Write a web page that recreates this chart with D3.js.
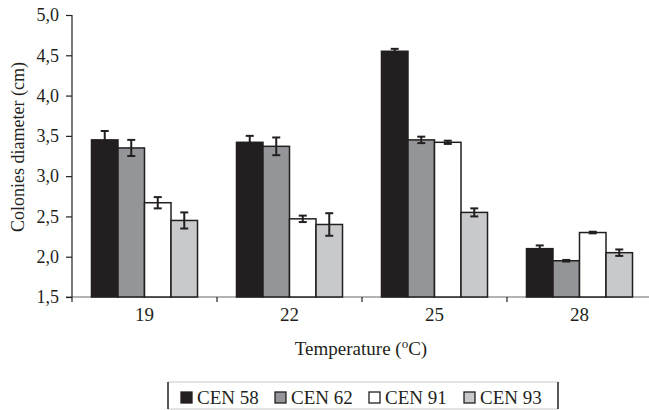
<!DOCTYPE html>
<html>
<head>
<meta charset="utf-8">
<script src="https://cdn.jsdelivr.net/npm/d3@7"></script>
<style>
  html, body { margin: 0; padding: 0; background: #fff; }
  svg text { font-family: "Liberation Serif", "DejaVu Serif", "Times New Roman", serif !important; fill: #231f20; }
</style>
</head>
<body>
<svg id="chart" width="649" height="410"></svg>
<script>
// ---- data ----
const categories = ["19", "22", "25", "28"];
const seriesNames = ["CEN 58", "CEN 62", "CEN 91", "CEN 93"];
const cen58 = [3.45, 3.42, 4.55, 2.10];
const cen62 = [3.35, 3.37, 3.45, 1.95];
const cen91 = [2.67, 2.47, 3.42, 2.30];
const cen93 = [2.45, 2.40, 2.55, 2.05];
const err58 = [0.11, 0.08, 0.03, 0.04];
const err62 = [0.10, 0.11, 0.04, 0.01];
const err91 = [0.07, 0.04, 0.02, 0.01];
const err93 = [0.10, 0.14, 0.05, 0.04];
const yTicks = [1.5, 2.0, 2.5, 3.0, 3.5, 4.0, 4.5, 5.0];
const yTickLabels = ["1,5", "2,0", "2,5", "3,0", "3,5", "4,0", "4,5", "5,0"];
const xTitle = "Temperature (";
const yTitle = "Colonies diameter (cm)";

const values = [cen58, cen62, cen91, cen93];
const errors = [err58, err62, err91, err93];
const colors = ["#231f20", "#939598", "#ffffff", "#c8c9cb"];
const dark = "#231f20";
const serif = '"Liberation Serif", "DejaVu Serif", serif';

const svg = d3.select("#chart");

const x0 = d3.scaleBand().domain(categories).range([72, 652]).paddingInner(0).paddingOuter(0);
const x1 = d3.scaleBand().domain(seriesNames).range([0, x0.bandwidth()]).paddingInner(0).paddingOuter(0.735);
const y = d3.scaleLinear().domain([1.5, 5]).range([297, 15]);

const records = [];
categories.forEach((c, ci) => {
  seriesNames.forEach((s, si) => {
    records.push({cat: c, series: s, si, value: values[si][ci], err: errors[si][ci]});
  });
});

// x axis baseline (gray)
svg.append("line")
  .attr("x1", 66).attr("x2", 649)
  .attr("y1", y(1.5)).attr("y2", y(1.5))
  .attr("stroke", "#9a9a9a").attr("stroke-width", 1.5);

// bars
svg.append("g").selectAll("rect").data(records).join("rect")
  .attr("x", d => x0(d.cat) + x1(d.series))
  .attr("y", d => y(d.value))
  .attr("width", x1.bandwidth())
  .attr("height", d => y(1.5) - y(d.value))
  .attr("fill", d => colors[d.si])
  .attr("stroke", dark)
  .attr("stroke-width", 1.5);

// error bars
const eb = svg.append("g").attr("stroke", dark).attr("stroke-width", 2);
records.forEach(d => {
  const cx = x0(d.cat) + x1(d.series) + x1.bandwidth() / 2;
  const yt = y(d.value + d.err), yb = y(d.value - d.err);
  eb.append("line").attr("x1", cx).attr("x2", cx).attr("y1", yt).attr("y2", yb);
  eb.append("line").attr("x1", cx - 4).attr("x2", cx + 4).attr("y1", yt).attr("y2", yt);
  eb.append("line").attr("x1", cx - 4).attr("x2", cx + 4).attr("y1", yb).attr("y2", yb);
});

// y axis
const yAxis = d3.axisLeft(y)
  .tickValues(yTicks)
  .tickFormat((d, i) => yTickLabels[i])
  .tickSize(6).tickSizeOuter(0).tickPadding(7);
const gy = svg.append("g").attr("transform", "translate(72,0)").call(yAxis)
  .attr("font-family", serif).attr("font-size", 18);
gy.select(".domain").remove();
gy.selectAll(".tick line").attr("stroke", dark).attr("stroke-width", 1.2);
gy.selectAll(".tick text").attr("fill", dark);
svg.append("line")
  .attr("x1", 72).attr("x2", 72)
  .attr("y1", y(5)).attr("y2", y(1.5) + 5)
  .attr("stroke", dark).attr("stroke-width", 1.2);

// x separator ticks
svg.append("g").selectAll("line").data(categories.slice(1)).join("line")
  .attr("x1", d => x0(d)).attr("x2", d => x0(d))
  .attr("y1", y(1.5)).attr("y2", y(1.5) + 5)
  .attr("stroke", dark).attr("stroke-width", 1.2);

// x labels
const xAxis = d3.axisBottom(x0).tickSize(0).tickPadding(11);
const gx = svg.append("g").attr("transform", `translate(0,${y(1.5)})`).call(xAxis)
  .attr("font-family", serif).attr("font-size", 19);
gx.select(".domain").remove();
gx.selectAll(".tick text").attr("fill", dark);

// x title
const xt = svg.append("text")
  .attr("x", 361).attr("y", 355)
  .attr("text-anchor", "middle")
  .attr("font-family", serif)
  .attr("font-size", 19);
xt.append("tspan").text(xTitle);
xt.append("tspan").attr("dy", -7).attr("font-size", 13).text("o");
xt.append("tspan").attr("dy", 7).text("C)");

// y title
svg.append("text")
  .attr("transform", "translate(24,147) rotate(-90)")
  .attr("text-anchor", "middle")
  .attr("font-family", serif)
  .attr("font-size", 18)
  .text(yTitle);

// legend
const lg = svg.append("g");
lg.append("line").attr("x1", 168).attr("x2", 558).attr("y1", 382).attr("y2", 382).attr("stroke", "#c8c8c8").attr("stroke-width", 1);
lg.append("line").attr("x1", 168).attr("x2", 558).attr("y1", 409).attr("y2", 409).attr("stroke", "#c8c8c8").attr("stroke-width", 1);
lg.append("line").attr("x1", 168).attr("x2", 168).attr("y1", 382).attr("y2", 409).attr("stroke", dark).attr("stroke-width", 1.5);
lg.append("line").attr("x1", 558).attr("x2", 558).attr("y1", 382).attr("y2", 409).attr("stroke", dark).attr("stroke-width", 1.5);
const legX = [181, 275, 369, 464];
seriesNames.forEach((s, i) => {
  lg.append("rect").attr("x", legX[i]).attr("y", 392).attr("width", 11).attr("height", 11)
    .attr("fill", colors[i]).attr("stroke", dark).attr("stroke-width", 1.3);
  lg.append("text").attr("x", legX[i] + 16).attr("y", 403.5)
    .attr("font-family", serif)
    .attr("font-size", 19).text(s);
});
</script>
</body>
</html>
